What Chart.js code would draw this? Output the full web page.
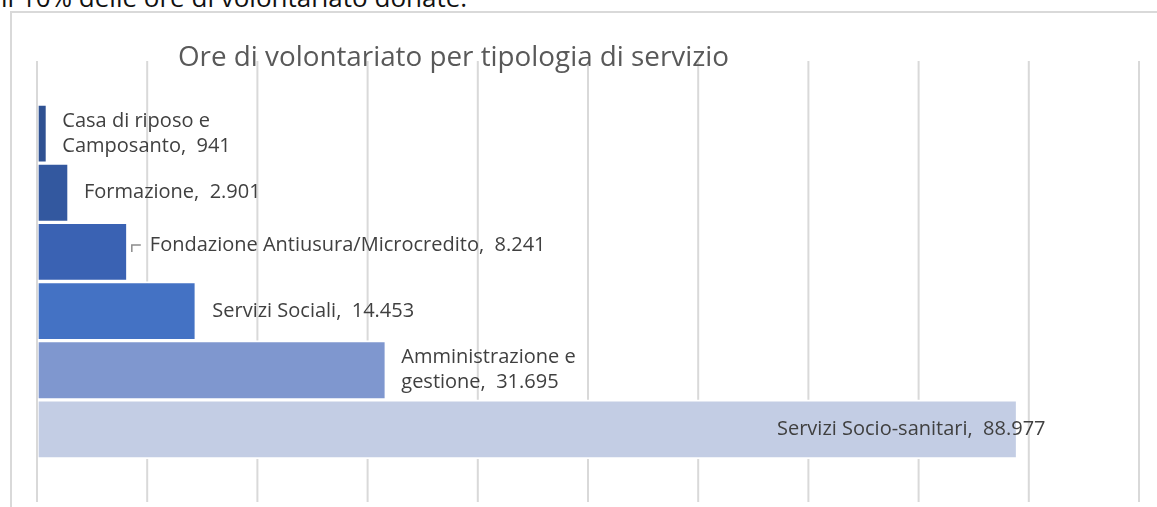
<!DOCTYPE html>
<html>
<head>
<meta charset="utf-8">
<script src="https://cdn.jsdelivr.net/npm/chart.js@4"></script>
<style>
  html, body { margin: 0; padding: 0; background: #ffffff; }
  body { width: 1157px; height: 507px; position: relative; overflow: hidden; }
  #lead { position: absolute; left: 1px; top: -16px; font-family: "Open Sans", sans-serif; font-size: 26px; line-height: 26px; color: #111; white-space: nowrap; }
  #frame { position: absolute; left: 10px; top: 11px; right: -4px; bottom: -4px; border-left: 2px solid #d9d9d9; border-top: 2px solid #d9d9d9; }
  #c { position: absolute; left: 0; top: 0; }
</style>
</head>
<body>
<div id="lead">il 10% delle ore di volontariato donate.</div>
<div id="frame"></div>
<canvas id="c" width="1157" height="507"></canvas>
<script>
// ---- data ----
const chartTitle = 'Ore di volontariato per tipologia di servizio';
const categories = [
  'Casa di riposo e Camposanto',
  'Formazione',
  'Fondazione Antiusura/Microcredito',
  'Servizi Sociali',
  'Amministrazione e gestione',
  'Servizi Socio-sanitari'
];
const hours = [941, 2901, 8241, 14453, 31695, 88977];
const gridValues = [0, 10000, 20000, 30000, 40000, 50000, 60000, 70000, 80000, 90000, 100000];

// ---- styles ----
const barColors = ['#2f5192', '#33589f', '#3a62b3', '#4472c4', '#7f97cf', '#c3cde4'];
const labelLayout = [
  { dx: 15, dy: 0, wrap: 175 },
  { dx: 15, dy: 0 },
  { dx: 22, dy: -7, leader: true },
  { dx: 16, dy: 0 },
  { dx: 15, dy: 0, wrap: 185 },
  { dx: 28, dy: 0, align: 'right' }
];

function fmt(n) {
  return String(n).replace(/\B(?=(\d{3})+(?!\d))/g, '.');
}

function wrapText(ctx, text, maxW) {
  if (!maxW) return [text];
  const words = text.split(' ');
  const lines = [];
  let cur = '';
  words.forEach(w => {
    const test = cur === '' ? w : cur + ' ' + w;
    if (cur !== '' && w !== '' && ctx.measureText(test).width > maxW) {
      lines.push(cur);
      cur = w;
    } else {
      cur = test;
    }
  });
  if (cur !== '') lines.push(cur);
  return lines;
}

const excelDecor = {
  id: 'excelDecor',
  beforeDatasetsDraw(chart, args, o) {
    const { ctx } = chart;
    const x = chart.scales.x;
    ctx.save();
    ctx.strokeStyle = o.gridColor;
    ctx.lineWidth = o.gridWidth;
    gridValues.forEach(v => {
      const px = x.getPixelForValue(v);
      ctx.beginPath();
      ctx.moveTo(px, o.gridTop);
      ctx.lineTo(px, o.gridBottom);
      ctx.stroke();
    });
    ctx.restore();
  },
  afterDatasetsDraw(chart, args, o) {
    const { ctx } = chart;
    const x = chart.scales.x;
    ctx.save();
    ctx.strokeStyle = o.gridColor;
    ctx.lineWidth = o.gridWidth;
    const p0 = x.getPixelForValue(gridValues[0]);
    ctx.beginPath();
    ctx.moveTo(p0, o.gridTop);
    ctx.lineTo(p0, o.gridBottom);
    ctx.stroke();

    ctx.font = o.labelFont;
    ctx.fillStyle = o.labelColor;
    ctx.textBaseline = 'middle';
    const meta = chart.getDatasetMeta(0);
    meta.data.forEach((bar, i) => {
      const L = labelLayout[i] || { dx: 15, dy: 0 };
      const text = categories[i] + ',  ' + fmt(hours[i]);
      const lines = wrapText(ctx, text, L.wrap);
      const lh = o.lineHeight;
      const cy = bar.y + (L.dy || 0);
      const tx = bar.x + L.dx;
      ctx.textAlign = L.align === 'right' ? 'right' : 'left';
      lines.forEach((ln, k) => {
        const ly = cy + (k - (lines.length - 1) / 2) * lh;
        ctx.fillText(ln, tx, ly);
      });
      if (L.leader) {
        ctx.strokeStyle = '#8c8c8c';
        ctx.lineWidth = 1.5;
        ctx.beginPath();
        ctx.moveTo(bar.x + 4, cy + 7);
        ctx.lineTo(bar.x + 4, cy);
        ctx.lineTo(bar.x + 13, cy);
        ctx.stroke();
      }
    });

    ctx.font = o.titleFont;
    ctx.fillStyle = o.titleColor;
    ctx.textAlign = 'left';
    ctx.textBaseline = 'alphabetic';
    ctx.fillText(chartTitle, o.titleX, o.titleY);
    ctx.restore();
  }
};

new Chart(document.getElementById('c'), {
  type: 'bar',
  data: {
    labels: categories,
    datasets: [{
      data: hours,
      backgroundColor: barColors,
      borderColor: '#ffffff',
      borderWidth: 2,
      borderSkipped: false,
      barPercentage: 1,
      categoryPercentage: 1
    }]
  },
  options: {
    indexAxis: 'y',
    responsive: false,
    animation: false,
    events: [],
    layout: { padding: { left: 37, right: 18, top: 104, bottom: 48 } },
    scales: {
      x: { display: false, min: 0, max: 100000 },
      y: { display: false }
    },
    plugins: {
      legend: { display: false },
      title: { display: false },
      tooltip: { enabled: false },
      excelDecor: {
        gridColor: '#d9d9d9',
        gridWidth: 2,
        gridTop: 61,
        gridBottom: 502,
        labelFont: '20px "Open Sans"',
        labelColor: '#404040',
        lineHeight: 25,
        titleFont: '27.8px "Open Sans"',
        titleColor: '#595959',
        titleX: 178,
        titleY: 66
      }
    }
  },
  plugins: [excelDecor]
});
</script>
</body>
</html>
